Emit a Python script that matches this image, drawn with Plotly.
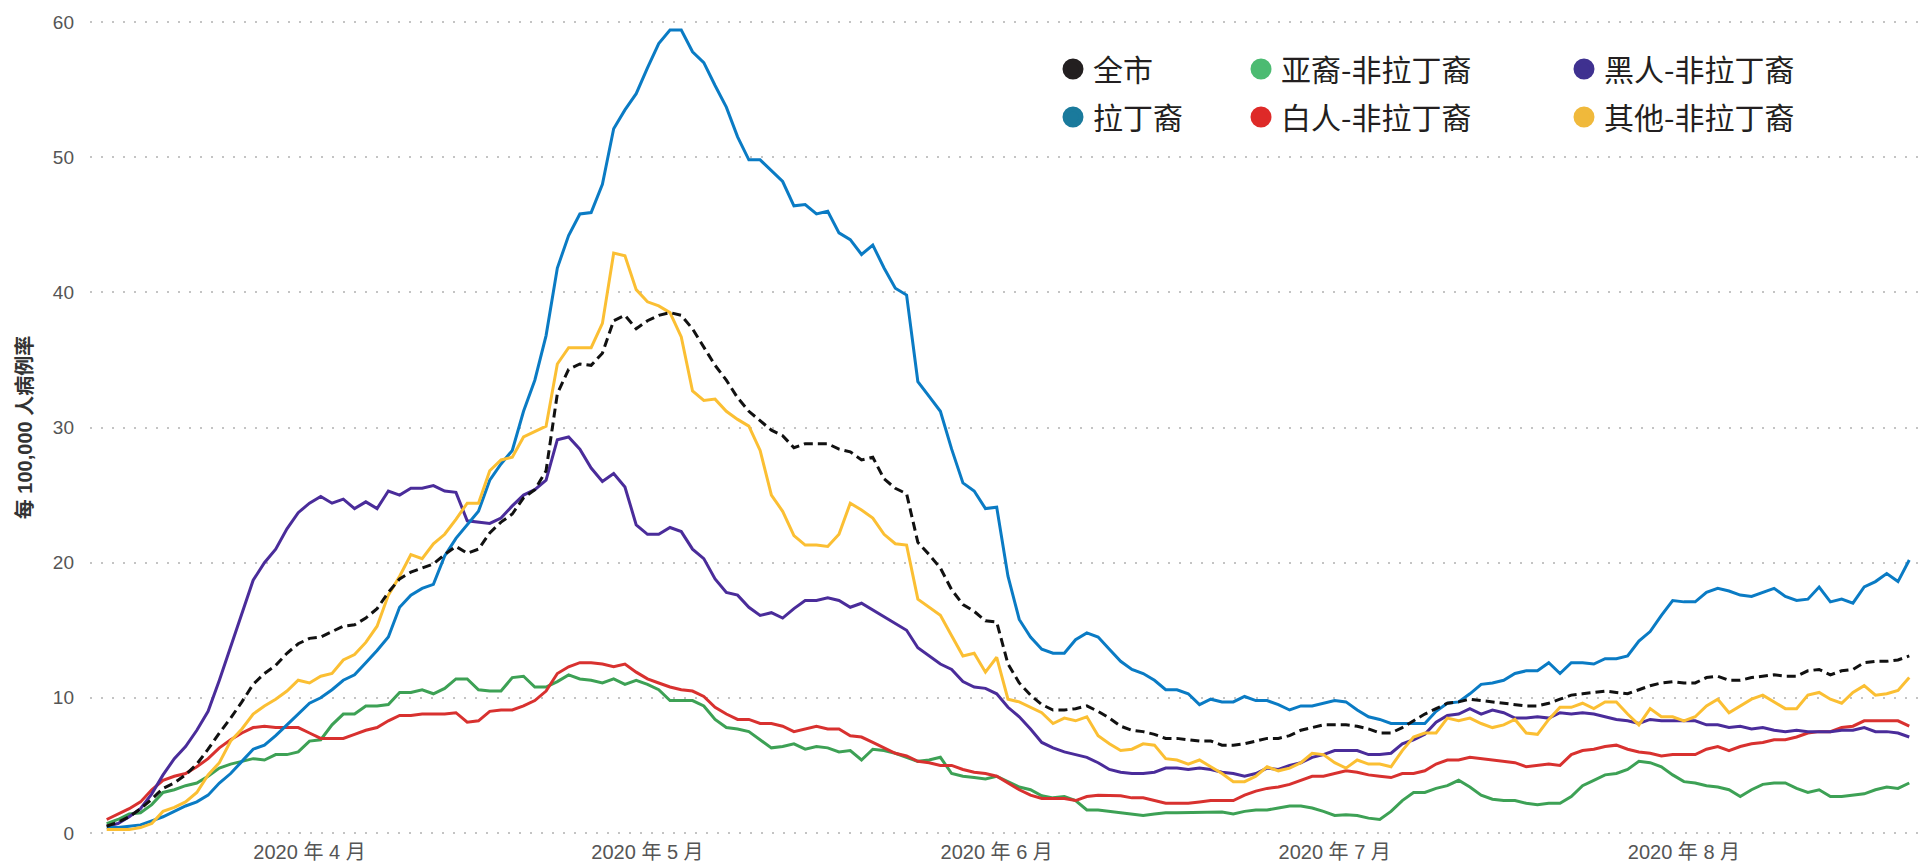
import pandas as pd
import plotly.graph_objects as go

# ---------------- data ----------------
start_date = "2020-03-14"

citywide = [0.5,0.8,1.2,1.8,2.5,3.3,3.7,4.3,5.1,6.2,7.4,8.5,9.7,11.0,11.8,12.4,13.3,14.0,14.4,14.5,14.9,15.3,15.4,15.9,16.6,17.8,
            18.8,19.3,19.6,19.9,20.6,21.2,20.7,21.0,22.2,23.0,23.6,24.8,25.4,26.8,32.5,34.3,34.7,34.6,35.5,37.9,38.3,37.3,37.9,38.3,38.5,38.3,37.3,36.0,
            34.6,33.5,32.2,31.2,30.5,29.8,29.4,28.5,28.8,28.8,28.8,28.4,28.2,27.6,27.8,26.2,25.5,25.1,21.5,20.6,19.6,18.0,16.9,16.4,15.7,15.6,12.5,11.1,10.2,
            9.5,9.1,9.1,9.2,9.4,9.0,8.5,7.9,7.6,7.5,7.3,7.0,7.0,6.9,6.8,6.8,6.5,6.5,6.6,6.8,7.0,7.0,7.2,7.6,7.8,8.0,8.0,8.0,
            7.9,7.7,7.4,7.4,7.8,8.3,8.8,9.2,9.6,9.7,9.9,9.8,9.7,9.6,9.5,9.4,9.4,9.6,9.9,10.2,10.3,10.4,10.5,10.4,10.3,10.6,10.9,11.1,
            11.2,11.1,11.1,11.5,11.6,11.3,11.3,11.5,11.6,11.7,11.6,11.6,12.0,12.1,11.7,12.0,12.1,12.6,12.7,12.7,12.8,13.1]

latino = [0.4,0.4,0.5,0.6,0.9,1.2,1.6,2.0,2.3,2.8,3.7,4.4,5.3,6.2,6.5,7.2,8.0,8.8,9.6,10.0,10.6,11.3,11.7,12.6,13.5,14.5,
          16.7,17.6,18.1,18.4,20.5,21.8,22.8,23.8,26.1,27.3,28.3,31.2,33.5,36.8,41.8,44.2,45.8,45.9,48.0,52.1,53.5,54.7,56.6,58.4,59.4,59.4,57.8,57.0,
          55.3,53.7,51.5,49.8,49.8,49.0,48.2,46.4,46.5,45.8,46.0,44.4,43.9,42.8,43.5,41.8,40.3,39.8,33.4,32.3,31.2,28.4,25.9,25.3,24.0,24.1,19.0,15.8,14.5,
          13.6,13.3,13.3,14.3,14.8,14.5,13.6,12.7,12.1,11.8,11.3,10.6,10.6,10.3,9.5,9.9,9.7,9.7,10.1,9.8,9.8,9.5,9.1,9.4,9.4,9.6,9.8,9.7,
          9.1,8.6,8.4,8.1,8.1,8.1,8.1,9.0,9.6,9.7,10.3,11.0,11.1,11.3,11.8,12.0,12.0,12.6,11.8,12.6,12.6,12.5,12.9,12.9,13.1,14.2,14.9,16.1,
          17.2,17.1,17.1,17.8,18.1,17.9,17.6,17.5,17.8,18.1,17.5,17.2,17.3,18.2,17.1,17.3,17.0,18.2,18.6,19.2,18.6,20.2]

asian_nh = [0.7,1.0,1.4,1.5,2.1,3.0,3.2,3.5,3.7,4.2,4.8,5.1,5.3,5.5,5.4,5.8,5.8,6.0,6.8,6.9,8.0,8.8,8.8,9.4,9.4,9.5,
            10.4,10.4,10.6,10.3,10.7,11.4,11.4,10.6,10.5,10.5,11.5,11.6,10.8,10.8,11.2,11.7,11.4,11.3,11.1,11.4,11.0,11.3,11.0,10.6,9.8,9.8,9.8,9.4,
            8.4,7.8,7.7,7.5,6.9,6.3,6.4,6.6,6.2,6.4,6.3,6.0,6.1,5.4,6.2,6.1,5.9,5.6,5.3,5.4,5.6,4.4,4.2,4.1,4.0,4.2,3.8,3.4,3.2,
            2.75,2.6,2.7,2.4,1.7,1.7,1.6,1.5,1.4,1.3,1.4,1.5,1.5,1.5,1.5,1.55,1.55,1.4,1.6,1.7,1.7,1.85,2.0,2.0,1.85,1.6,1.3,1.35,
            1.3,1.1,1.0,1.6,2.4,3.0,3.0,3.3,3.5,3.9,3.4,2.8,2.5,2.4,2.4,2.2,2.1,2.2,2.2,2.7,3.5,3.9,4.3,4.4,4.7,5.3,5.2,4.9,
            4.3,3.8,3.7,3.5,3.4,3.2,2.7,3.2,3.6,3.7,3.7,3.3,3.0,3.2,2.7,2.7,2.8,2.9,3.2,3.4,3.3,3.7]

white_nh = [1.0,1.4,1.8,2.3,3.2,3.9,4.2,4.4,4.9,5.5,6.3,6.9,7.4,7.8,7.9,7.8,7.8,7.8,7.4,7.0,7.0,7.0,7.3,7.6,7.8,8.3,
            8.7,8.7,8.8,8.8,8.8,8.9,8.2,8.3,9.0,9.1,9.1,9.4,9.8,10.5,11.8,12.3,12.6,12.6,12.5,12.3,12.5,11.9,11.4,11.1,10.8,10.6,10.5,10.1,
            9.3,8.8,8.4,8.4,8.1,8.1,7.9,7.5,7.7,7.9,7.7,7.7,7.2,7.1,6.7,6.3,5.9,5.7,5.3,5.2,5.0,5.0,4.7,4.5,4.4,4.2,3.7,3.2,2.8,
            2.55,2.55,2.55,2.4,2.7,2.8,2.8,2.75,2.6,2.6,2.4,2.2,2.2,2.2,2.3,2.4,2.4,2.4,2.8,3.1,3.3,3.4,3.6,3.9,4.2,4.2,4.4,4.6,
            4.5,4.3,4.2,4.1,4.4,4.4,4.6,5.1,5.4,5.4,5.6,5.5,5.4,5.3,5.2,4.9,5.0,5.1,5.0,5.8,6.1,6.2,6.4,6.5,6.2,6.0,5.9,5.7,
            5.8,5.8,5.8,6.2,6.4,6.1,6.4,6.6,6.7,6.9,6.9,7.1,7.4,7.5,7.5,7.8,7.9,8.3,8.3,8.3,8.3,7.9]

black_nh = [0.5,0.7,1.2,1.8,2.9,4.3,5.5,6.4,7.6,9.0,11.3,13.8,16.2,18.7,20.0,21.0,22.5,23.7,24.4,24.9,24.4,24.7,24.0,24.5,24.0,25.3,
            25.0,25.5,25.5,25.7,25.3,25.2,23.1,23.0,22.9,23.3,24.2,25.0,25.4,26.1,29.1,29.3,28.4,27.0,26.0,26.6,25.6,22.8,22.1,22.1,22.6,22.3,21.0,20.3,
            18.8,17.8,17.6,16.7,16.1,16.3,15.9,16.6,17.2,17.2,17.4,17.2,16.7,17.0,16.5,16.0,15.5,15.0,13.7,13.1,12.5,12.1,11.2,10.8,10.7,10.3,9.3,8.6,7.7,
            6.7,6.3,6.0,5.8,5.6,5.2,4.7,4.5,4.4,4.4,4.5,4.8,4.8,4.7,4.8,4.7,4.5,4.4,4.2,4.4,4.8,4.7,5.0,5.2,5.6,5.8,6.1,6.1,
            6.1,5.8,5.8,5.9,6.6,6.9,7.3,8.2,8.7,8.8,9.2,8.8,9.1,8.9,8.5,8.5,8.6,8.5,8.9,8.8,8.9,8.8,8.6,8.4,8.3,8.1,8.4,8.3,
            8.3,8.3,8.3,8.0,8.0,7.8,7.9,7.7,7.8,7.6,7.5,7.6,7.5,7.5,7.5,7.6,7.6,7.8,7.5,7.5,7.4,7.1]

other_nh = [0.25,0.25,0.25,0.4,0.7,1.6,1.9,2.3,3.0,4.3,5.2,6.8,7.7,8.8,9.4,9.9,10.5,11.3,11.1,11.6,11.8,12.8,13.2,14.1,15.3,17.6,
            19.0,20.6,20.3,21.4,22.1,23.2,24.4,24.4,26.8,27.6,27.8,29.3,29.7,30.1,34.7,35.9,35.9,35.9,37.7,42.9,42.7,40.2,39.3,39.0,38.5,36.7,32.7,32.0,
            32.1,31.2,30.6,30.1,28.3,25.0,23.8,22.0,21.3,21.3,21.2,22.1,24.4,23.9,23.3,22.1,21.4,21.3,17.3,16.7,16.1,14.6,13.1,13.3,11.9,13.0,9.9,9.7,9.3,
            8.9,8.1,8.5,8.3,8.6,7.2,6.6,6.1,6.2,6.6,6.5,5.5,5.4,5.1,5.4,4.9,4.4,3.8,3.8,4.2,4.9,4.6,4.8,5.2,5.9,5.8,5.2,4.8,
            5.4,5.1,5.1,4.9,6.1,7.1,7.4,7.4,8.5,8.3,8.5,8.1,7.8,8.0,8.4,7.4,7.3,8.4,9.3,9.3,9.6,9.2,9.7,9.7,8.8,8.0,9.2,8.6,
            8.6,8.3,8.6,9.4,9.9,8.9,9.4,9.9,10.2,9.7,9.2,9.2,10.2,10.4,9.9,9.6,10.4,10.9,10.2,10.3,10.55,11.5]

series_names = ["全市", "亚裔-非拉丁裔", "黑人-非拉丁裔", "拉丁裔", "白人-非拉丁裔", "其他-非拉丁裔"]
series_values = [citywide, asian_nh, black_nh, latino, white_nh, other_nh]
y_ticks = [0, 10, 20, 30, 40, 50, 60]
y_title = "每 100,000 人病例率"

for v in series_values:
    assert len(v) == len(citywide), len(v)
dates = pd.date_range(start_date, periods=len(citywide), freq="D")

# ---------------- styling ----------------
LATIN = "Liberation Sans, Arial, Noto Sans CJK SC, sans-serif"
CJK = "Noto Sans CJK SC, Noto Sans, sans-serif"

line_style = {
    "全市": dict(color="#111111", width=3, dash="9px,5px"),
    "亚裔-非拉丁裔": dict(color="#3da155", width=3),
    "黑人-非拉丁裔": dict(color="#4a2c9a", width=3),
    "拉丁裔": dict(color="#0a7bc4", width=3),
    "白人-非拉丁裔": dict(color="#d8312f", width=3),
    "其他-非拉丁裔": dict(color="#fbbf33", width=3),
}
legend_color = {
    "全市": "#231f20",
    "亚裔-非拉丁裔": "#4cbb72",
    "黑人-非拉丁裔": "#3f3190",
    "拉丁裔": "#1a7a9c",
    "白人-非拉丁裔": "#de2a28",
    "其他-非拉丁裔": "#f0b93b",
}
# legend slot (pixel centre of the dot) for each series
legend_slot = {
    "全市": (1073, 69),
    "亚裔-非拉丁裔": (1261, 69),
    "黑人-非拉丁裔": (1584, 69),
    "拉丁裔": (1073, 117),
    "白人-非拉丁裔": (1261, 117),
    "其他-非拉丁裔": (1584, 117),
}
draw_order = ["亚裔-非拉丁裔", "白人-非拉丁裔", "黑人-非拉丁裔", "拉丁裔", "其他-非拉丁裔", "全市"]

W, H = 1919, 866
fig = go.Figure()

data_by_name = dict(zip(series_names, series_values))
for name in draw_order:
    fig.add_trace(go.Scatter(
        x=dates, y=data_by_name[name], name=name, mode="lines",
        line=line_style[name], showlegend=False, hoverinfo="x+y+name",
    ))

legend_layouts = {}
for k, name in enumerate(series_names):
    lid = "legend" if k == 0 else f"legend{k + 1}"
    c = legend_color[name]
    fig.add_trace(go.Scatter(
        x=[None], y=[None], name=name, mode="markers",
        marker=dict(size=16, color=c, line=dict(width=5, color=c)),
        showlegend=True, legend=lid, hoverinfo="skip",
    ))
    cx, cy = legend_slot[name]
    legend_layouts[lid] = dict(
        xref="container", yref="container",
        x=(cx - 20) / W, y=1 - cy / H,
        xanchor="left", yanchor="middle",
        bgcolor="rgba(0,0,0,0)", borderwidth=0,
        font=dict(family=CJK, size=30, color="#231f20"),
        itemclick=False, itemdoubleclick=False,
    )

# axis geometry
px_per_day = 11.266
first_x = 106.7
left, right = 90, 0
x0 = dates[0] - pd.Timedelta(days=(first_x - left) / px_per_day)
x1 = dates[0] + pd.Timedelta(days=(W - right - first_x) / px_per_day)

top, bottom = 17, 28
pad_units = 5 / (811 / 60)

fig.update_layout(
    width=W, height=H,
    margin=dict(l=left, r=right, t=top, b=bottom, pad=0, autoexpand=False),
    paper_bgcolor="white", plot_bgcolor="white",
    font=dict(family=LATIN, color="#555555"),
    showlegend=True,
    **legend_layouts,
)
fig.update_xaxes(
    type="date", range=[x0, x1], automargin=False,
    tickmode="linear", tick0="2020-04-01", dtick="M1",
    tickformat="%Y 年 %-m 月",
    tickfont=dict(family=LATIN, size=20, color="#555555"),
    showgrid=False, zeroline=False, showline=False, ticks="",
    ticklabelstandoff=0,
)
fig.update_yaxes(
    range=[-pad_units, 60 + pad_units], automargin=False,
    tickmode="array", tickvals=y_ticks,
    tickfont=dict(family=LATIN, size=19, color="#555555"),
    showgrid=True, gridcolor="#c4c4c4", gridwidth=2, griddash="2px,9px",
    zeroline=False, showline=False, ticks="",
    ticklabelstandoff=15,
    title=dict(text=y_title, standoff=14,
               font=dict(family=LATIN, size=20, color="#333333", weight="bold")),
)

fig.write_html("out.html", config={"displayModeBar": False},
               post_script="document.body.style.margin='0';")
